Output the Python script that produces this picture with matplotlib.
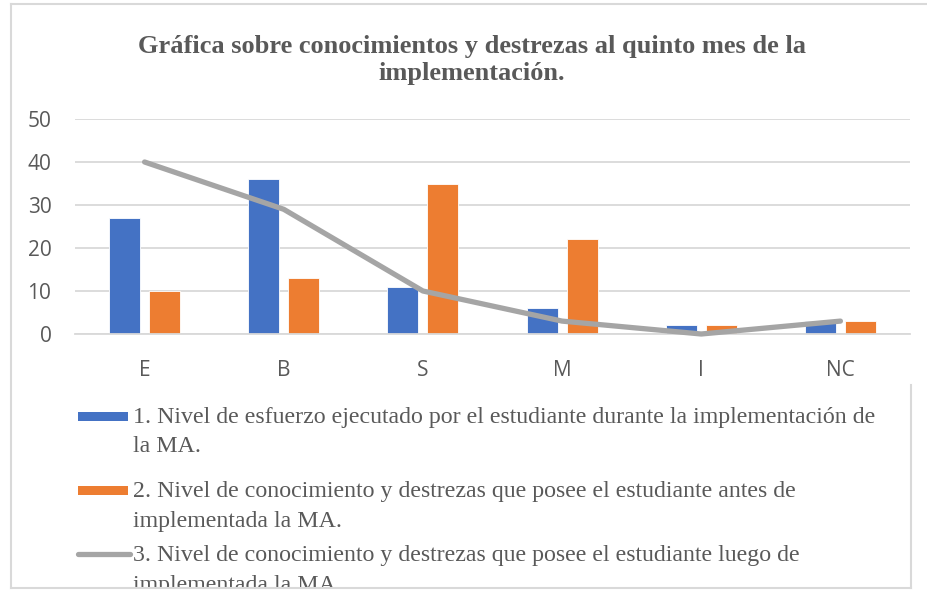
import matplotlib.pyplot as plt
import numpy as np
from matplotlib.patches import Rectangle
from matplotlib.lines import Line2D

# data
categories = ["E", "B", "S", "M", "I", "NC"]
esfuerzo = [27, 36, 11, 6, 2, 3]
antes = [10, 13, 35, 22, 2, 3]
luego = [40, 29, 10, 3, 0, 3]
y_ticks = [0, 10, 20, 30, 40, 50]

title = "Gráfica sobre conocimientos y destrezas al quinto mes de la\nimplementación."
series_labels = [
    "1. Nivel de esfuerzo ejecutado por el estudiante durante la implementación de\nla MA.",
    "2. Nivel de conocimiento y destrezas que posee el estudiante antes de\nimplementada la MA.",
    "3. Nivel de conocimiento y destrezas que posee el estudiante luego de\nimplementada la MA.",
]

BLUE = "#4472C4"
ORANGE = "#ED7D31"
GRAY = "#A5A5A5"
TEXT = "#595959"
GRID = "#D9D9D9"

W, H = 927, 592
fig = plt.figure(figsize=(W / 100, H / 100), dpi=100)


def fx(px):
    return px / W


def fy(py):
    return 1 - py / H


ax = fig.add_axes([fx(75), fy(334), fx(910) - fx(75), fy(119) - fy(334)])

x = np.arange(len(categories))
bw = 0.223
off = 0.144
ax.bar(x - off, esfuerzo, bw, color=BLUE, edgecolor="white", linewidth=0.6, zorder=2)
ax.bar(x + off, antes, bw, color=ORANGE, edgecolor="white", linewidth=0.6, zorder=2)
ax.plot(x, luego, color=GRAY, linewidth=3.8, solid_capstyle="round",
        solid_joinstyle="round", zorder=3, clip_on=False)

ax.set_xlim(-0.5, len(categories) - 0.5)
ax.set_ylim(0, 50)
ax.set_yticks(y_ticks)
ax.set_xticks(x)
ax.set_xticklabels(categories)
ax.yaxis.grid(True, color=GRID, linewidth=1.3, zorder=0)
ax.set_axisbelow(True)
for s in ["top", "right", "left"]:
    ax.spines[s].set_visible(False)
ax.spines["bottom"].set_color(GRID)
ax.spines["bottom"].set_linewidth(1.3)
ax.tick_params(length=0, labelsize=15, labelcolor=TEXT)
ax.tick_params(axis="y", pad=17)
ax.tick_params(axis="x", pad=19)
for lab in ax.get_xticklabels() + ax.get_yticklabels():
    lab.set_fontfamily("Open Sans")

# title
fig.text(fx(472), fy(60), title, ha="center", va="center", fontsize=19,
         fontweight="bold", family="Liberation Serif", color=TEXT, linespacing=1.25)

# hand-placed legend, text wrapped like the reference
handle_y = [416, 490, 554]
for i, (lab, hy) in enumerate(zip(series_labels, handle_y)):
    if i < 2:
        fig.add_artist(Rectangle((fx(78), fy(hy + 4.5)), fx(50), fy(hy - 4.5) - fy(hy + 4.5),
                                 transform=fig.transFigure, color=[BLUE, ORANGE][i], lw=0))
    else:
        fig.add_artist(Line2D([fx(78), fx(130)], [fy(hy), fy(hy)], transform=fig.transFigure,
                              color=GRAY, lw=3.8, solid_capstyle="round"))
    for j, line in enumerate(lab.split("\n")):
        fig.text(fx(133), fy(hy + 2 + 29 * j), line, ha="left", va="center", fontsize=17.2,
                 family="Liberation Serif", color=TEXT, zorder=3)

# cover the part of the last legend line cut by the frame
fig.add_artist(Rectangle((0, 0), 1, fy(588), transform=fig.transFigure,
                         color="white", lw=0, zorder=5))

# frame of the chart
border = dict(transform=fig.transFigure, color=GRID, lw=1.5, zorder=6)
fig.add_artist(Line2D([fx(11), fx(11)], [fy(4), fy(588)], **border))
fig.add_artist(Line2D([fx(11), 1], [fy(4), fy(4)], **border))
fig.add_artist(Line2D([fx(11), fx(911)], [fy(588), fy(588)], **border))
fig.add_artist(Line2D([fx(911), fx(911)], [fy(385), fy(588)], **border))

fig.savefig("out.png", dpi=100)
